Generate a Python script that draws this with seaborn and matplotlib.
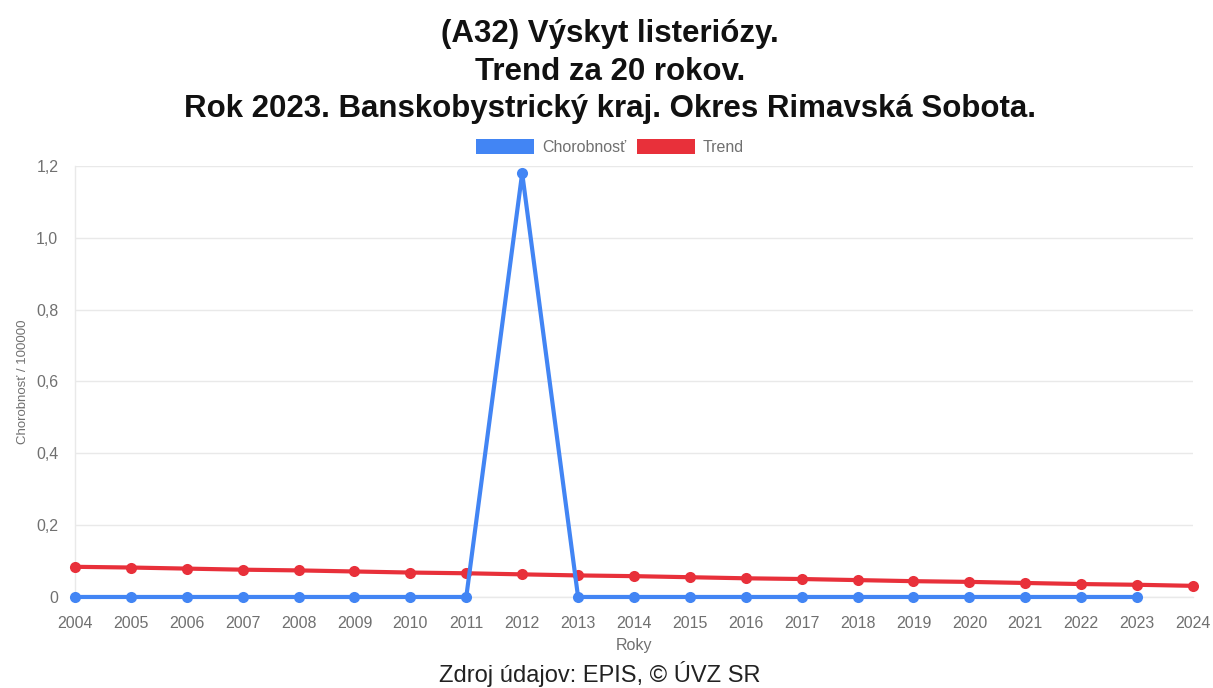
import matplotlib
matplotlib.use("Agg")
import matplotlib.pyplot as plt
from matplotlib.patches import Patch
import seaborn as sns
import pandas as pd

years = list(range(2004, 2025))
incidence_years = list(range(2004, 2024))
incidence = [0, 0, 0, 0, 0, 0, 0, 0, 1.18, 0,
             0, 0, 0, 0, 0, 0, 0, 0, 0, 0]
trend = [0.084, 0.082, 0.079, 0.076, 0.074, 0.071, 0.068, 0.066, 0.063, 0.060,
         0.058, 0.055, 0.052, 0.050, 0.047, 0.044, 0.042, 0.039, 0.036, 0.034, 0.031]
y_ticks = [0, 0.2, 0.4, 0.6, 0.8, 1.0, 1.2]
y_tick_labels = ["0", "0,2", "0,4", "0,6", "0,8", "1,0", "1,2"]

title_lines = ["(A32) Výskyt listeriózy.", "Trend za 20 rokov.",
               "Rok 2023. Banskobystrický kraj. Okres Rimavská Sobota."]

BLUE = "#4285F4"
RED = "#E8303A"
GRID = "#E9E9E9"
TICK_TXT = "#707070"

sns.set_style("white")
plt.rcParams["font.family"] = ["Liberation Sans", "DejaVu Sans"]

fig = plt.figure(figsize=(12.13, 6.88), dpi=100)
ax = fig.add_axes([0.0618, 0.1323, 0.9217, 0.6264])

df_inc = pd.DataFrame({"year": incidence_years, "value": incidence})
df_trend = pd.DataFrame({"year": years, "value": trend})

sns.lineplot(data=df_trend, x="year", y="value", ax=ax, color=RED, linewidth=3,
             marker="o", markersize=8, markeredgewidth=0, clip_on=False, zorder=3)
sns.lineplot(data=df_inc, x="year", y="value", ax=ax, color=BLUE, linewidth=3,
             marker="o", markersize=8, markeredgewidth=0, clip_on=False, zorder=4)

ax.set_xlim(2004, 2024)
ax.set_ylim(0, 1.2)
ax.set_xticks(years)
ax.set_xticklabels([str(y) for y in years], fontsize=11.5, color=TICK_TXT)
ax.set_yticks(y_ticks)
ax.set_yticklabels(y_tick_labels, fontsize=11.5, color=TICK_TXT)
ax.tick_params(axis="x", length=6, color=GRID, width=1, pad=8)
ax.tick_params(axis="y", length=8, color=GRID, width=1, pad=4)
ax.yaxis.grid(True, color=GRID, linewidth=1)
ax.xaxis.grid(False)
for side in ["top", "right"]:
    ax.spines[side].set_visible(False)
for side in ["left", "bottom"]:
    ax.spines[side].set_color(GRID)
    ax.spines[side].set_linewidth(1)

ax.set_xlabel("Roky", fontsize=11.5, color=TICK_TXT, labelpad=5)
ax.set_ylabel("Chorobnosť / 100000", fontsize=9.5, color=TICK_TXT, labelpad=5)

fig.text(0.503, 0.972, "\n".join(title_lines), ha="center", va="top",
         fontsize=22.5, fontweight="bold", color="#111111", linespacing=1.33)

handles = [Patch(facecolor=BLUE, edgecolor="none", label="Chorobnosť"),
           Patch(facecolor=RED, edgecolor="none", label="Trend")]
fig.legend(handles=handles, loc="center", bbox_to_anchor=(0.503, 0.786),
           ncol=2, frameon=False, fontsize=11.5, labelcolor=TICK_TXT,
           handlelength=3.6, handleheight=1.0, handletextpad=0.5, columnspacing=0.7)

fig.text(0.4946, 0.009, "Zdroj údajov: EPIS, © ÚVZ SR", ha="center", va="baseline",
         fontsize=17, color="#222222")

fig.savefig("out.png", dpi=100)
